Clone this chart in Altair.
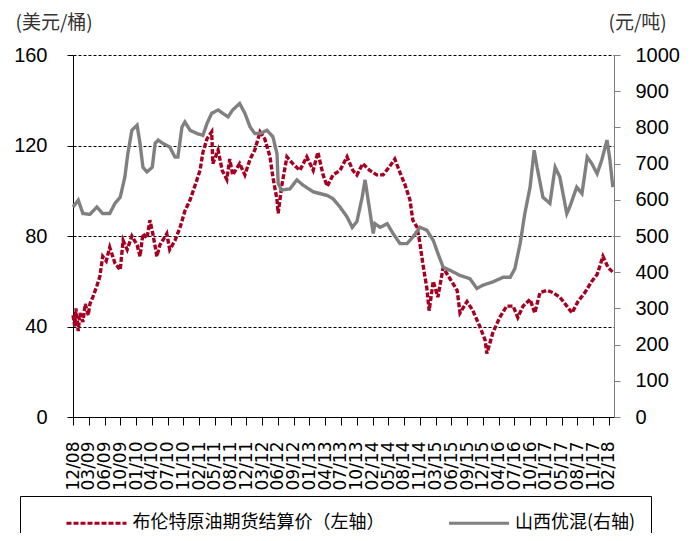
import altair as alt
import pandas as pd

# ---------------- data ----------------
S1 = "布伦特原油期货结算价（左轴）"
S2 = "山西优混(右轴)"

BRENT_T = [2008.95, 2008.98, 2009.00, 2009.04, 2009.07, 2009.12, 2009.16, 2009.21, 2009.24, 2009.29,
           2009.36, 2009.41, 2009.46, 2009.52, 2009.58, 2009.67, 2009.76, 2009.81, 2009.88, 2009.96,
           2010.05, 2010.10, 2010.15, 2010.22, 2010.27, 2010.32, 2010.39, 2010.44, 2010.56, 2010.61,
           2010.70, 2010.79, 2010.87, 2010.96, 2011.04, 2011.13, 2011.18, 2011.25, 2011.33, 2011.35,
           2011.44, 2011.51, 2011.59, 2011.64, 2011.69, 2011.81, 2011.90, 2011.99, 2012.07, 2012.16,
           2012.24, 2012.33, 2012.38, 2012.45, 2012.47, 2012.53, 2012.62, 2012.72, 2012.84, 2012.96,
           2013.07, 2013.15, 2013.24, 2013.31, 2013.41, 2013.53, 2013.65, 2013.75, 2013.82, 2013.92,
           2014.04, 2014.16, 2014.27, 2014.39, 2014.47, 2014.56, 2014.64, 2014.73, 2014.78, 2014.85,
           2014.90, 2014.95, 2015.02, 2015.06, 2015.13, 2015.21, 2015.30, 2015.42, 2015.54, 2015.59,
           2015.71, 2015.81, 2015.93, 2016.02, 2016.05, 2016.15, 2016.27, 2016.39, 2016.50, 2016.58,
           2016.67, 2016.79, 2016.87, 2016.96, 2017.08, 2017.18, 2017.30, 2017.42, 2017.51, 2017.61,
           2017.73, 2017.85, 2017.94, 2018.04, 2018.13, 2018.21]
BRENT_V = [45, 40, 48, 38, 46, 42, 50, 45, 50, 53,
           58, 62, 71, 69, 75, 68, 65, 78, 74, 80,
           76, 71, 81, 79, 87, 81, 71, 76, 81, 74,
           78, 84, 91, 96, 102, 109, 117, 123, 126, 112,
           118, 109, 105, 114, 107, 112, 107, 114, 118, 126,
           123, 115, 106, 96, 90, 102, 115, 112, 109, 115,
           109, 117, 107, 102, 107, 109, 115, 109, 107, 112,
           109, 107, 107, 111, 114, 108, 103, 96, 87, 84,
           77, 68, 57, 47, 60, 53, 66, 61, 56, 46,
           51, 47, 40, 34, 28, 37, 44, 49, 49, 44,
           49, 52, 46, 55, 56, 55, 53, 49, 46, 51,
           55, 60, 63, 71, 66, 64]

COAL_T = [2008.95, 2009.04, 2009.12, 2009.24, 2009.36, 2009.46, 2009.58, 2009.67, 2009.76, 2009.84,
          2009.89, 2009.96, 2010.05, 2010.10, 2010.15, 2010.22, 2010.31, 2010.36, 2010.41, 2010.49,
          2010.61, 2010.70, 2010.75, 2010.82, 2010.87, 2010.96, 2011.08, 2011.18, 2011.25, 2011.33,
          2011.44, 2011.52, 2011.61, 2011.69, 2011.81, 2011.90, 2011.99, 2012.07, 2012.16, 2012.28,
          2012.38, 2012.45, 2012.47, 2012.53, 2012.67, 2012.79, 2012.90, 2013.07, 2013.31, 2013.41,
          2013.53, 2013.65, 2013.74, 2013.82, 2013.91, 2013.96, 2014.04, 2014.10, 2014.13, 2014.22,
          2014.34, 2014.44, 2014.56, 2014.68, 2014.78, 2014.90, 2015.02, 2015.13, 2015.21, 2015.30,
          2015.42, 2015.59, 2015.76, 2015.88, 2015.98, 2016.15, 2016.33, 2016.45, 2016.53, 2016.62,
          2016.70, 2016.79, 2016.86, 2016.91, 2017.01, 2017.13, 2017.22, 2017.30, 2017.42, 2017.47,
          2017.59, 2017.68, 2017.77, 2017.85, 2017.94, 2018.02, 2018.11, 2018.16, 2018.21]
COAL_V = [580, 599, 562, 560, 580, 562, 562, 590, 607, 663,
          727, 792, 806, 756, 690, 677, 690, 756, 765, 756,
          746, 718, 718, 801, 815, 792, 783, 778, 811, 839,
          848, 839, 829, 848, 866, 839, 801, 783, 783, 792,
          774, 727, 645, 627, 630, 655, 640, 622, 612, 603,
          580, 553, 524, 540, 607, 655, 571, 507, 534, 524,
          534, 507, 479, 479, 497, 524, 516, 488, 452, 414,
          405, 391, 382, 355, 364, 373, 386, 386, 410, 479,
          562, 635, 737, 690, 607, 590, 690, 663, 562, 580,
          635, 617, 718, 700, 672, 710, 765, 710, 635]

TICK_T = [2008.950, 2009.220, 2009.491, 2009.761, 2010.032, 2010.302, 2010.572, 2010.843, 2011.113,
          2011.384, 2011.654, 2011.924, 2012.195, 2012.465, 2012.736, 2013.006, 2013.276, 2013.547,
          2013.817, 2014.088, 2014.358, 2014.628, 2014.899, 2015.169, 2015.440, 2015.710, 2015.980,
          2016.251, 2016.521, 2016.792, 2017.062, 2017.332, 2017.603, 2017.873, 2018.144]
X_START, X_END = 2008.95, 2018.23

LEFT_TICKS = [0, 40, 80, 120, 160]
RIGHT_TICKS = [0, 100, 200, 300, 400, 500, 600, 700, 800, 900, 1000]
LEFT_TITLE = "(美元/桶)"
RIGHT_TITLE = "(元/吨)"


def to_ts(y):
    year = int(y)
    a = pd.Timestamp(year=year, month=1, day=1)
    b = pd.Timestamp(year=year + 1, month=1, day=1)
    return a + (b - a) * (y - year)


def to_str(y):
    return to_ts(y).strftime("%Y-%m-%dT%H:%M:%S")


def to_dt(y):
    t = to_ts(y)
    return alt.DateTime(year=t.year, month=t.month, date=t.day, hours=t.hour)


brent = pd.DataFrame({"date": [to_str(t) for t in BRENT_T], "value": BRENT_V, "series": S1})
coal = pd.DataFrame({"date": [to_str(t) for t in COAL_T], "value": COAL_V, "series": S2})

color_scale = alt.Scale(domain=[S1, S2], range=["#A50021", "#808080"])
dash_scale = alt.Scale(domain=[S1, S2], range=[[5, 2], [1, 0]])

legend = alt.Legend(
    title=None, orient="none", legendX=-53, legendY=441, direction="horizontal", columns=2,
    strokeColor="black", padding=15.5, symbolType="M-3,0H3", symbolSize=400,
    symbolStrokeWidth=3, symbolOffset=49.5, labelOffset=24.5, columnPadding=33.5,
    labelFont="Noto Sans CJK SC", labelFontSize=18, labelColor="black", labelLimit=400,
)

x_enc = alt.X(
    "date:T",
    scale=alt.Scale(domain=[to_dt(X_START), to_dt(X_END)], nice=False),
    axis=alt.Axis(
        values=[to_dt(t) for t in TICK_T], format="%m/%y", labelAngle=270, labelOverlap=False,
        labelFlush=False, tickSize=8, labelPadding=16, labelFont="DejaVu Sans", labelFontSize=17,
        labelColor="black", domainColor="black", tickColor="black", grid=False, title=None,
    ),
)

num_font = "Liberation Sans"
title_font = "Noto Sans CJK SC"

gray = alt.Chart(coal).mark_line(strokeWidth=3.4).encode(
    x=x_enc,
    y=alt.Y(
        "value:Q",
        scale=alt.Scale(domain=[0, 1000], nice=False),
        axis=alt.Axis(
            orient="right", values=RIGHT_TICKS, format="d", grid=False, domainColor="#808080",
            tickColor="#808080", tickSize=6, labelPadding=15, labelFont=num_font,
            labelFontSize=20, labelColor="black", labelAlign="left",
            title=RIGHT_TITLE, titleAngle=0, titleX=-6, titleY=-33, titleAlign="left",
            titleBaseline="middle", titleFont=title_font, titleFontSize=19,
            titleFontWeight="normal", titleColor="#333333", titleLimit=400,
        ),
    ),
    color=alt.Color("series:N", scale=color_scale, legend=legend),
    strokeDash=alt.StrokeDash("series:N", scale=dash_scale, legend=legend),
)

red = alt.Chart(brent).mark_line(strokeWidth=3.4).encode(
    x=x_enc,
    y=alt.Y(
        "value:Q",
        scale=alt.Scale(domain=[0, 160], nice=False),
        axis=alt.Axis(
            orient="left", values=LEFT_TICKS, format="d", grid=True, gridDash=[3, 2],
            gridColor="black", gridWidth=1, gridOpacity=1, domainColor="black",
            tickColor="black", tickSize=6, labelPadding=20, labelFont=num_font,
            labelFontSize=20, labelColor="black",
            title=LEFT_TITLE, titleAngle=0, titleX=-58, titleY=-33, titleAlign="left",
            titleBaseline="middle", titleFont=title_font, titleFontSize=19,
            titleFontWeight="normal", titleColor="#333333", titleLimit=400,
        ),
    ),
    color=alt.Color("series:N", scale=color_scale, legend=legend),
    strokeDash=alt.StrokeDash("series:N", scale=dash_scale, legend=legend),
)

chart = (
    alt.layer(red, gray)
    .resolve_scale(y="independent")
    .properties(
        width=541, height=362,
        padding={"left": 65, "top": 47, "right": 72, "bottom": 116},
        autosize=alt.AutoSizeParams(type="none"),
        background="white",
    )
    .configure_view(strokeWidth=0)
)

chart.save("out.html", embed_options={"renderer": "svg", "actions": False})
